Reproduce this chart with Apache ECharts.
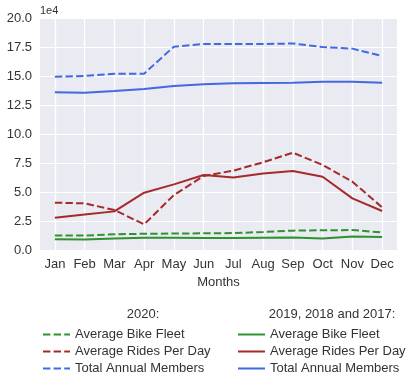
<!DOCTYPE html>
<html>
<head>
<meta charset="utf-8">
<script src="https://cdn.jsdelivr.net/npm/echarts@6/dist/echarts.min.js"></script>
<style>
  html, body { margin: 0; padding: 0; background: #fff; }
  #chart { width: 416px; height: 388px; }
</style>
</head>
<body>
<div id="chart"></div>
<script>
// 数据 (单位 1e4)
const months = ['Jan', 'Feb', 'Mar', 'Apr', 'May', 'Jun', 'Jul', 'Aug', 'Sep', 'Oct', 'Nov', 'Dec'];
const yTicks = [0, 2.5, 5, 7.5, 10, 12.5, 15, 17.5, 20];

// 2020
const fleet2020 = [1.24, 1.24, 1.35, 1.40, 1.42, 1.44, 1.46, 1.55, 1.67, 1.70, 1.72, 1.52];
const rides2020 = [4.08, 4.02, 3.45, 2.21, 4.74, 6.38, 6.84, 7.56, 8.39, 7.33, 5.89, 3.68];
const members2020 = [14.94, 15.00, 15.20, 15.20, 17.53, 17.76, 17.76, 17.76, 17.80, 17.50, 17.36, 16.72];

// 2019, 2018 and 2017
const fleetPrev = [0.92, 0.90, 1.00, 1.05, 1.05, 1.03, 1.03, 1.05, 1.07, 1.00, 1.17, 1.12];
const ridesPrev = [2.79, 3.07, 3.33, 4.94, 5.66, 6.47, 6.26, 6.60, 6.81, 6.32, 4.45, 3.36];
const membersPrev = [13.60, 13.55, 13.70, 13.88, 14.14, 14.28, 14.37, 14.40, 14.42, 14.51, 14.51, 14.42];

(function () {
	let myChart = echarts.init(document.getElementById('chart'));
	const font = 'Liberation Sans, Arial, sans-serif';
	const green = '#2e922e', red = '#a52a2a', blue = '#4169e1';
	const dash = [7.4, 3.2];

	// 绘图区
	const gLeft = 40, gRight = 19, gTop = 18, gBottom = 138;
	const half = (416 - gLeft - gRight) / months.length / 2; // 半个类目宽

	// 线画在第二个 grid 上: x 为月份序号 0..11, 首尾对齐 Jan / Dec
	function line(name, data, color, type) {
		return {
			name: name,
			type: 'line',
			xAxisIndex: 1,
			yAxisIndex: 1,
			data: data.map(function (v, i) { return [i, v]; }),
			symbol: 'none',
			lineStyle: { color: color, width: 2, type: type },
			itemStyle: { color: color },
			z: 3
		};
	}

	const legendBase = {
		orient: 'vertical',
		itemWidth: 27,
		itemHeight: 12,
		itemGap: 4,
		itemStyle: { opacity: 0 },
		textStyle: { fontFamily: font, fontSize: 13, color: '#333' },
		formatter: function (name) { return name.split('|')[1]; }
	};

	const series = [
		line('a|Average Bike Fleet', fleet2020, green, dash),
		line('a|Average Rides Per Day', rides2020, red, dash),
		line('a|Total Annual Members', members2020, blue, dash),
		line('b|Average Bike Fleet', fleetPrev, green, 'solid'),
		line('b|Average Rides Per Day', ridesPrev, red, 'solid'),
		line('b|Total Annual Members', membersPrev, blue, 'solid')
	];
	// 竖向网格线 (每个月一条), 放在线的下面
	series[0].markLine = {
		silent: true,
		animation: false,
		z: 2,
		symbol: 'none',
		label: { show: false },
		lineStyle: { color: '#fff', width: 1.2, type: 'solid' },
		data: months.map(function (m, i) { return { xAxis: i }; })
	};

	const option = {
		animation: false,
		backgroundColor: '#fff',
		textStyle: { fontFamily: font },
		title: [
			{ text: '2020:', left: 138, top: 303, textAlign: 'center',
				textStyle: { fontFamily: font, fontSize: 13, fontWeight: 'normal', color: '#333' } },
			{ text: '2019, 2018 and 2017:', left: 327, top: 303, textAlign: 'center',
				textStyle: { fontFamily: font, fontSize: 13, fontWeight: 'normal', color: '#333' } }
		],
		legend: [
			Object.assign({}, legendBase, {
				left: 37, top: 323,
				data: ['a|Average Bike Fleet', 'a|Average Rides Per Day', 'a|Total Annual Members']
			}),
			Object.assign({}, legendBase, {
				left: 232, top: 323,
				data: ['b|Average Bike Fleet', 'b|Average Rides Per Day', 'b|Total Annual Members']
			})
		],
		grid: [
			{ left: gLeft, right: gRight, top: gTop, bottom: gBottom, backgroundColor: '#eaeaf2', show: true, borderWidth: 0, z: 0 },
			{ left: gLeft + half, right: gRight + half, top: gTop, bottom: gBottom, z: 1 }
		],
		xAxis: [
			{
				type: 'category',
				data: months,
				boundaryGap: true,
				name: 'Months',
				nameLocation: 'middle',
				nameGap: 22,
				nameTextStyle: { fontFamily: font, fontSize: 13, color: '#333' },
				axisLine: { show: false },
				axisTick: { show: false },
				axisLabel: { fontFamily: font, fontSize: 13, color: '#333', margin: 8, interval: 0 },
				splitLine: { show: false }
			},
			{
				type: 'value',
				gridIndex: 1,
				z: 1,
				min: 0,
				max: months.length - 1,
				interval: 1,
				axisLine: { show: false },
				axisTick: { show: false },
				axisLabel: { show: false },
				splitLine: { show: true, lineStyle: { color: '#fff', width: 1.2 } }
			}
		],
		yAxis: [
			{
				type: 'value',
				min: 0,
				max: 20,
				interval: 2.5,
				name: '1e4',
				nameLocation: 'end',
				nameGap: 2,
				nameTextStyle: { fontFamily: font, fontSize: 11, color: '#333', align: 'left' },
				axisLine: { show: false },
				axisTick: { show: false },
				axisLabel: {
					fontFamily: font, fontSize: 13, color: '#333', margin: 8,
					formatter: function (v) { return yTicks.indexOf(v) >= 0 ? v.toFixed(1) : ''; }
				},
				splitLine: { lineStyle: { color: '#fff', width: 1.2 } }
			},
			{
				type: 'value',
				gridIndex: 1,
				min: 0,
				max: 20,
				axisLine: { show: false },
				axisTick: { show: false },
				axisLabel: { show: false },
				splitLine: { show: false }
			}
		],
		series: series
	};
	myChart.setOption(option);
	window.addEventListener('resize', function () {
		myChart.resize();
	});
})();
</script>
</body>
</html>
